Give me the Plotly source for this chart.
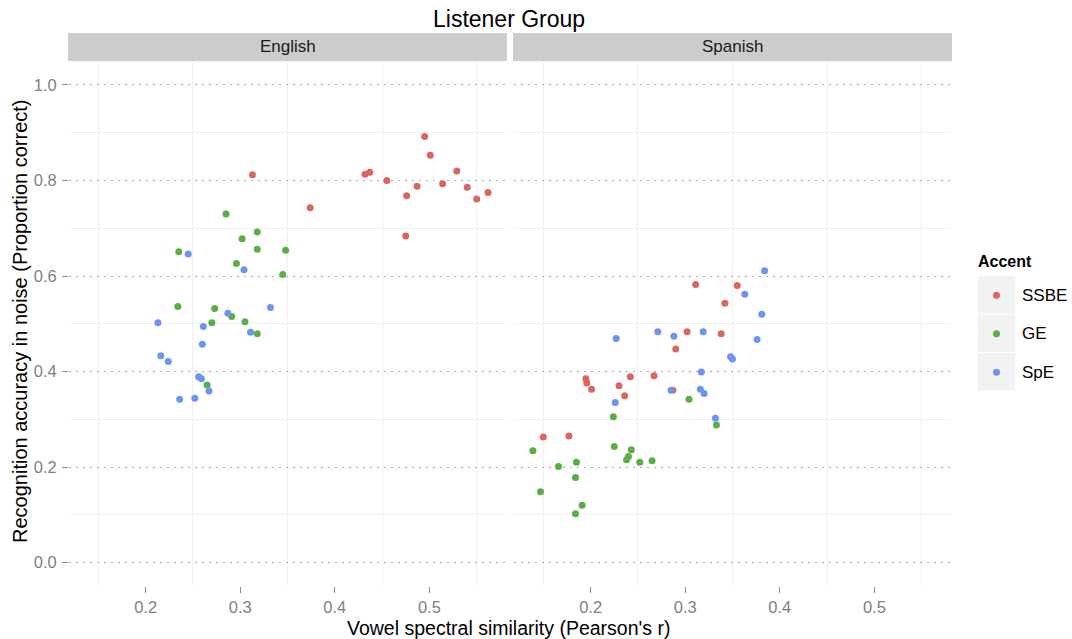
import plotly.graph_objects as go

W, H = 1072, 639

accents = ["SSBE", "GE", "SpE"]
colors = ["#D9675E", "#5BAE45", "#6D95F0"]
panels = ["English", "Spanish"]

eng_ssbe_x = [0.313, 0.374, 0.432, 0.437, 0.455, 0.495, 0.501, 0.529, 0.487, 0.476, 0.514, 0.540, 0.550, 0.562, 0.475]
eng_ssbe_y = [0.812, 0.743, 0.813, 0.817, 0.800, 0.892, 0.853, 0.820, 0.788, 0.768, 0.793, 0.786, 0.761, 0.775, 0.684]
eng_ge_x = [0.285, 0.318, 0.302, 0.318, 0.348, 0.235, 0.296, 0.345, 0.234, 0.273, 0.270, 0.291, 0.305, 0.318, 0.265]
eng_ge_y = [0.730, 0.692, 0.678, 0.656, 0.654, 0.651, 0.626, 0.603, 0.536, 0.532, 0.502, 0.515, 0.504, 0.479, 0.372]
eng_spe_x = [0.245, 0.304, 0.332, 0.287, 0.213, 0.261, 0.311, 0.260, 0.216, 0.224, 0.256, 0.259, 0.267, 0.236, 0.252]
eng_spe_y = [0.646, 0.613, 0.534, 0.522, 0.502, 0.494, 0.482, 0.457, 0.433, 0.421, 0.389, 0.385, 0.359, 0.342, 0.344]

spa_ssbe_x = [0.311, 0.355, 0.342, 0.302, 0.338, 0.290, 0.195, 0.196, 0.201, 0.242, 0.267, 0.230, 0.236, 0.287, 0.150, 0.177]
spa_ssbe_y = [0.582, 0.580, 0.543, 0.483, 0.479, 0.447, 0.385, 0.376, 0.363, 0.389, 0.391, 0.370, 0.349, 0.361, 0.263, 0.265]
spa_ge_x = [0.304, 0.333, 0.224, 0.225, 0.243, 0.240, 0.238, 0.252, 0.265, 0.139, 0.166, 0.185, 0.184, 0.147, 0.191, 0.184]
spa_ge_y = [0.342, 0.288, 0.305, 0.243, 0.236, 0.222, 0.215, 0.210, 0.213, 0.234, 0.201, 0.210, 0.178, 0.148, 0.120, 0.102]
spa_spe_x = [0.384, 0.363, 0.381, 0.271, 0.288, 0.319, 0.376, 0.227, 0.348, 0.350, 0.317, 0.316, 0.320, 0.285, 0.226, 0.332]
spa_spe_y = [0.611, 0.562, 0.520, 0.483, 0.474, 0.483, 0.467, 0.469, 0.431, 0.426, 0.399, 0.363, 0.354, 0.361, 0.335, 0.302]

x_ticks = [0.2, 0.3, 0.4, 0.5]
x_minor = [0.15, 0.25, 0.35, 0.45, 0.55]
y_ticks = [0.0, 0.2, 0.4, 0.6, 0.8, 1.0]
y_minor = [0.1, 0.3, 0.5, 0.7, 0.9]

FONT = "Liberation Sans, Arial, Helvetica, sans-serif"
TICKCOL = "#7F7F7F"


def fx(p):
    return p / W


def fy(p):
    return 1 - p / H


data = {
    "English": [(eng_ssbe_x, eng_ssbe_y), (eng_ge_x, eng_ge_y), (eng_spe_x, eng_spe_y)],
    "Spanish": [(spa_ssbe_x, spa_ssbe_y), (spa_ge_x, spa_ge_y), (spa_spe_x, spa_spe_y)],
}

fig = go.Figure()
for pi, panel in enumerate(panels):
    xa = "x" if pi == 0 else "x2"
    ya = "y" if pi == 0 else "y2"
    for ai, acc in enumerate(accents):
        xs, ys = data[panel][ai]
        fig.add_trace(go.Scatter(
            x=xs, y=ys, mode="markers", name=acc, xaxis=xa, yaxis=ya,
            marker=dict(color=colors[ai], size=7, line=dict(width=0)),
            showlegend=False,
        ))

panel_px = [(69, 506), (514, 951)]
ytop, ybot = 61.1, 586.4
xrange = [0.119, 0.581]
yrange = [-0.05, 1.05]

xaxis_common = dict(
    range=xrange, tickvals=x_ticks, ticktext=[f"{v:.1f}" for v in x_ticks],
    showgrid=False, zeroline=False, showline=False,
    ticks="outside", ticklen=6, tickwidth=1, tickcolor="#8C8C8C",
    tickfont=dict(family=FONT, size=16.5, color=TICKCOL),
    ticklabelstandoff=0,
    minor=dict(tickvals=x_minor, showgrid=True, gridcolor="#F1F1F1", gridwidth=1,
               griddash="solid", ticks=""),
)
yaxis_common = dict(
    range=yrange, tickvals=y_ticks,
    showgrid=True, gridcolor="#ABABAB", griddash="2px,5px", gridwidth=1.2,
    zeroline=False, showline=False,
    minor=dict(tickvals=y_minor, showgrid=True, gridcolor="#F1F1F1", gridwidth=1,
               griddash="solid", ticks=""),
    domain=[fy(ybot), fy(ytop)],
)

fig.update_layout(
    width=W, height=H,
    margin=dict(l=0, r=0, t=0, b=0),
    paper_bgcolor="white", plot_bgcolor="white",
    showlegend=False,
    font=dict(family=FONT),
    xaxis=dict(domain=[fx(panel_px[0][0]), fx(panel_px[0][1])], anchor="y", **xaxis_common),
    xaxis2=dict(domain=[fx(panel_px[1][0]), fx(panel_px[1][1])], anchor="y2", **xaxis_common),
    yaxis=dict(anchor="x", ticks="outside", ticklen=6, tickwidth=1, tickcolor="#8C8C8C",
               tickformat=".1f", tickfont=dict(family=FONT, size=16.5, color=TICKCOL),
               ticklabelstandoff=2, **yaxis_common),
    yaxis2=dict(anchor="x2", matches="y", showticklabels=False, ticks="", **yaxis_common),
)

shapes = []
annotations = []
# facet strips
strip_px = [(68, 507), (513, 952)]
for (x0, x1), name in zip(strip_px, panels):
    shapes.append(dict(type="rect", xref="paper", yref="paper",
                       x0=fx(x0), x1=fx(x1), y0=fy(61), y1=fy(33),
                       fillcolor="#CCCCCC", line=dict(width=0), layer="below"))
    annotations.append(dict(text=name, xref="paper", yref="paper",
                            x=fx((x0 + x1) / 2), y=fy(47), xanchor="center", yanchor="middle",
                            showarrow=False, font=dict(family=FONT, size=17, color="#1A1A1A")))

# titles
annotations.append(dict(text="Listener Group", xref="paper", yref="paper",
                        x=fx(509), y=fy(19), xanchor="center", yanchor="middle",
                        showarrow=False, font=dict(family=FONT, size=23, color="black")))
annotations.append(dict(text="Vowel spectral similarity (Pearson's r)", xref="paper", yref="paper",
                        x=fx(508), y=fy(628), xanchor="center", yanchor="middle",
                        showarrow=False, font=dict(family=FONT, size=19.5, color="black")))
annotations.append(dict(text="Recognition accuracy in noise (Proportion correct)", xref="paper", yref="paper",
                        x=fx(20), y=fy(321), xanchor="center", yanchor="middle", textangle=-90,
                        showarrow=False, font=dict(family=FONT, size=20, color="black")))

# legend
annotations.append(dict(text="<b>Accent</b>", xref="paper", yref="paper",
                        x=fx(976), y=fy(262), xanchor="left", yanchor="middle",
                        showarrow=False, font=dict(family=FONT, size=16, color="black")))
key_top = 276
key_h = 38.5
for i, acc in enumerate(accents):
    y0 = key_top + i * key_h
    shapes.append(dict(type="rect", xref="paper", yref="paper",
                       x0=fx(978), x1=fx(1015), y0=fy(y0 + key_h - 1), y1=fy(y0),
                       fillcolor="#F2F2F2", line=dict(width=0)))
    cy = y0 + key_h / 2
    shapes.append(dict(type="circle", xref="paper", yref="paper",
                       x0=fx(996.5 - 3.5), x1=fx(996.5 + 3.5), y0=fy(cy + 3.5), y1=fy(cy - 3.5),
                       fillcolor=colors[i], line=dict(width=0)))
    annotations.append(dict(text=acc, xref="paper", yref="paper",
                            x=fx(1020), y=fy(cy), xanchor="left", yanchor="middle",
                            showarrow=False, font=dict(family=FONT, size=17, color="black")))

fig.update_layout(shapes=shapes, annotations=annotations)

fig.write_html(
    "out.html",
    config={"displayModeBar": False},
    post_script="document.body.style.margin='0';document.body.style.overflow='hidden';",
)
